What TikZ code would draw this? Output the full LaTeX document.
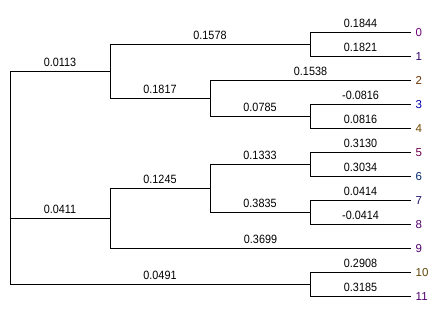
\documentclass[tikz,border=0pt]{standalone}
\usepackage{fontspec}
\setmainfont{Liberation Sans}
\newfontfamily\brfont[FakeStretch=0.9]{Liberation Sans}
\definecolor{c0}{RGB}{110,0,120}
\definecolor{c1}{RGB}{50,0,110}
\definecolor{c2}{RGB}{110,50,0}
\definecolor{c3}{RGB}{0,0,170}
\definecolor{c4}{RGB}{110,70,0}
\definecolor{c5}{RGB}{110,0,80}
\definecolor{c6}{RGB}{0,40,110}
\definecolor{c7}{RGB}{30,20,110}
\definecolor{c8}{RGB}{80,0,110}
\definecolor{c9}{RGB}{80,0,110}
\definecolor{c10}{RGB}{90,70,0}
\definecolor{c11}{RGB}{80,0,110}
\tikzset{
  br/.style={line width=1pt, black},
  lab/.style={pos=0.75, anchor=base, yshift=4.5pt, inner sep=0pt, font=\brfont\fontsize{12}{12}\selectfont},
  leaflab/.style={anchor=base west, xshift=4.5pt, yshift=-4pt, inner sep=0pt, font=\fontsize{11.5}{11.5}\selectfont}
}
\begin{document}
\begin{tikzpicture}[x=1pt,y=-1pt]
\fill[white] (0,0) rectangle (438,319);
\useasboundingbox (0,0) rectangle (438,319);
% internal nodes
\coordinate (R) at (10,177.5);
\coordinate (A) at (110,71);
\coordinate (B) at (110,218);
\coordinate (C) at (310,284);
\coordinate (A1) at (310,44);
\coordinate (A2) at (210,98);
\coordinate (A21) at (310,116);
\coordinate (B1) at (210,188);
\coordinate (B11) at (310,164);
\coordinate (B12) at (310,212);
% leaves
\foreach \i in {0,...,11} {
  \coordinate (L\i) at (411,{32+24*\i});
  \node[leaflab, text=c\i] (n\i) at (L\i) {\i};
}
% edges
\draw[br] (R) |- node[lab]{0.0113} (A);
\draw[br] (R) |- node[lab]{0.0411} (B);
\draw[br] (R) |- node[lab]{0.0491} (C);
\draw[br] (A) |- node[lab]{0.1578} (A1);
\draw[br] (A) |- node[lab]{0.1817} (A2);
\draw[br] (A1) |- node[lab]{0.1844} (L0);
\draw[br] (A1) |- node[lab]{0.1821} (L1);
\draw[br] (A2) |- node[lab]{0.1538} (L2);
\draw[br] (A2) |- node[lab]{0.0785} (A21);
\draw[br] (A21) |- node[lab]{-0.0816} (L3);
\draw[br] (A21) |- node[lab]{0.0816} (L4);
\draw[br] (B) |- node[lab]{0.1245} (B1);
\draw[br] (B) |- node[lab]{0.3699} (L9);
\draw[br] (B1) |- node[lab]{0.1333} (B11);
\draw[br] (B1) |- node[lab]{0.3835} (B12);
\draw[br] (B11) |- node[lab]{0.3130} (L5);
\draw[br] (B11) |- node[lab]{0.3034} (L6);
\draw[br] (B12) |- node[lab]{0.0414} (L7);
\draw[br] (B12) |- node[lab]{-0.0414} (L8);
\draw[br] (C) |- node[lab]{0.2908} (L10);
\draw[br] (C) |- node[lab]{0.3185} (L11);
\end{tikzpicture}
\end{document}
